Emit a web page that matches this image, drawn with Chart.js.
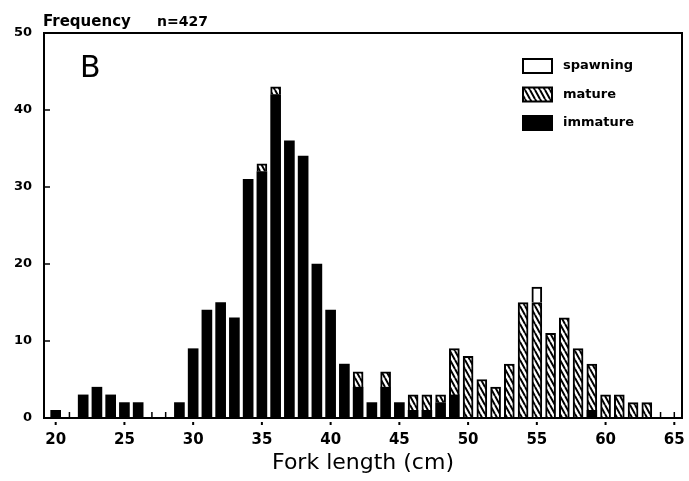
<!DOCTYPE html>
<html>
<head>
<meta charset="utf-8">
<script src="https://cdn.jsdelivr.net/npm/chart.js@4.4.1/dist/chart.umd.min.js"></script>
<style>
  html, body { margin: 0; padding: 0; background: #fff; }
</style>
</head>
<body>
<canvas id="myChart" width="689" height="481"></canvas>
<script>
// fork length classes (cm), one bar per cm
const lengths = [20,21,22,23,24,25,26,27,28,29,30,31,32,33,34,35,36,37,38,39,40,41,42,43,44,45,46,47,48,49,50,51,52,53,54,55,56,57,58,59,60,61,62,63];
const immature = [1,0,3,4,3,2,2,0,0,2, 9,14,15,13,31,32,42,36,34,20, 14,7,4,2,4,2,1,1,2,3, 0,0,0,0,0,0,0,0,0,1, 0,0,0,0];
const mature   = [0,0,0,0,0,0,0,0,0,0, 0,0,0,0,0,1,1,0,0,0, 0,0,2,0,2,0,2,2,1,6, 8,5,4,7,15,15,11,13,9,6, 3,3,2,2];
const spawning = [0,0,0,0,0,0,0,0,0,0, 0,0,0,0,0,0,0,0,0,0, 0,0,0,0,0,0,0,0,0,0, 0,0,0,0,0,2,0,0,0,0, 0,0,0,0];
const xTicks = [20,25,30,35,40,45,50,55,60,65];
const yTicks = [0,10,20,30,40,50];

const canvas = document.getElementById("myChart");
const ctx = canvas.getContext("2d");

// diagonal hatching for the "mature" bars
function makeHatch() {
   const c = document.createElement("canvas");
   c.width = 5;
   c.height = 9;
   const g = c.getContext("2d");
   g.fillStyle = "#fff";
   g.fillRect(0, 0, 5, 9);
   g.strokeStyle = "#000";
   g.lineWidth = 2;
   g.beginPath();
   for (const dx of [-5, 0, 5]) {
      g.moveTo(dx, 0);
      g.lineTo(dx + 5, 9);
   }
   g.stroke();
   return ctx.createPattern(c, "repeat");
}
const hatch = makeHatch();

// zero classes are left out, so no empty bars get drawn
function points(values) {
   return lengths.map((x, i) => ({ x: x, y: values[i] })).filter((p) => p.y > 0);
}

const FONT = "DejaVu Sans";

// frame, inside ticks, labels and legend
const decor = {
   id: "decor",
   beforeDatasetsDraw(chart) {
      const { ctx, chartArea: a, scales } = chart;
      ctx.save();
      ctx.strokeStyle = "#000";
      ctx.lineWidth = 1.5;
      ctx.beginPath();
      for (let v = 20; v <= 65; v++) {
         const px = scales.x.getPixelForValue(v);
         ctx.moveTo(px, a.bottom);
         ctx.lineTo(px, a.bottom - 6);
      }
      yTicks.forEach((v) => {
         const py = scales.y.getPixelForValue(v);
         ctx.moveTo(a.left, py);
         ctx.lineTo(a.left + 6, py);
      });
      ctx.stroke();
      ctx.restore();
   },
   afterDraw(chart) {
      const { ctx, chartArea: a, scales } = chart;
      ctx.save();
      ctx.strokeStyle = "#000";
      ctx.lineWidth = 2;
      ctx.strokeRect(a.left, a.top, a.right - a.left, a.bottom - a.top);

      // small dots under the axis at the labelled ticks
      ctx.fillStyle = "#000";
      xTicks.forEach((v) => {
         const px = scales.x.getPixelForValue(v);
         ctx.fillRect(px - 1, a.bottom + 4, 2, 3);
      });

      ctx.textBaseline = "alphabetic";
      ctx.textAlign = "left";
      ctx.font = "bold 15px '" + FONT + "'";
      ctx.fillText("Frequency", 43, 26);
      ctx.font = "bold 14px '" + FONT + "'";
      ctx.fillText("n=427", 157, 26);
      ctx.font = "30px '" + FONT + "'";
      ctx.fillText("B", 80, 77);

      // legend, top item first
      const items = chart.data.datasets.slice().reverse();
      ctx.font = "bold 13px '" + FONT + "'";
      ctx.textBaseline = "middle";
      items.forEach((ds, i) => {
         const top = 59 + i * 28.5;
         ctx.fillStyle = ds.backgroundColor;
         ctx.fillRect(523, top, 29, 14);
         ctx.lineWidth = 2;
         ctx.strokeRect(523, top, 29, 14);
         ctx.fillStyle = "#000";
         ctx.fillText(ds.label, 563, top + 7);
      });
      ctx.restore();
   },
};

const myChart = new Chart(ctx, {
   type: "bar",
   data: {
      datasets: [
         {
            label: "immature",
            data: points(immature),
            backgroundColor: "#000",
            borderColor: "#000",
            borderWidth: 0,
            barThickness: 10,
         },
         {
            label: "mature",
            data: points(mature),
            backgroundColor: hatch,
            borderColor: "#000",
            borderWidth: 2,
            barThickness: 10,
         },
         {
            label: "spawning",
            data: points(spawning),
            backgroundColor: "#fff",
            borderColor: "#000",
            borderWidth: 2,
            barThickness: 10,
         },
      ],
   },
   options: {
      responsive: false,
      animation: false,
      layout: { padding: { top: 33, right: 7, left: 0, bottom: 0 } },
      plugins: {
         legend: { display: false },
         tooltip: { enabled: false },
      },
      scales: {
         x: {
            type: "linear",
            stacked: true,
            offset: false,
            min: 19.15,
            max: 65.56,
            afterBuildTicks: (s) => {
               s.ticks = xTicks.map((v) => ({ value: v }));
            },
            afterFit: (s) => {
               s.height = 63;
               s.paddingLeft = 0;
               s.paddingRight = 0;
            },
            grid: { display: false, offset: false },
            border: { display: false },
            ticks: {
               padding: 5,
               color: "#000",
               font: { family: FONT, weight: "bold", size: 15 },
            },
            title: {
               display: true,
               text: "Fork length (cm)",
               color: "#000",
               font: { family: FONT, size: 22 },
               padding: { top: 0, bottom: 5 },
            },
         },
         y: {
            stacked: true,
            min: 0,
            max: 50,
            afterBuildTicks: (s) => {
               s.ticks = yTicks.map((v) => ({ value: v }));
            },
            afterFit: (s) => {
               s.width = 44;
               s.paddingTop = 0;
               s.paddingBottom = 0;
            },
            grid: { display: false },
            border: { display: false },
            ticks: {
               padding: 4,
               color: "#000",
               font: { family: FONT, weight: "bold", size: 13 },
            },
         },
      },
   },
   plugins: [decor],
});
</script>
</body>
</html>
